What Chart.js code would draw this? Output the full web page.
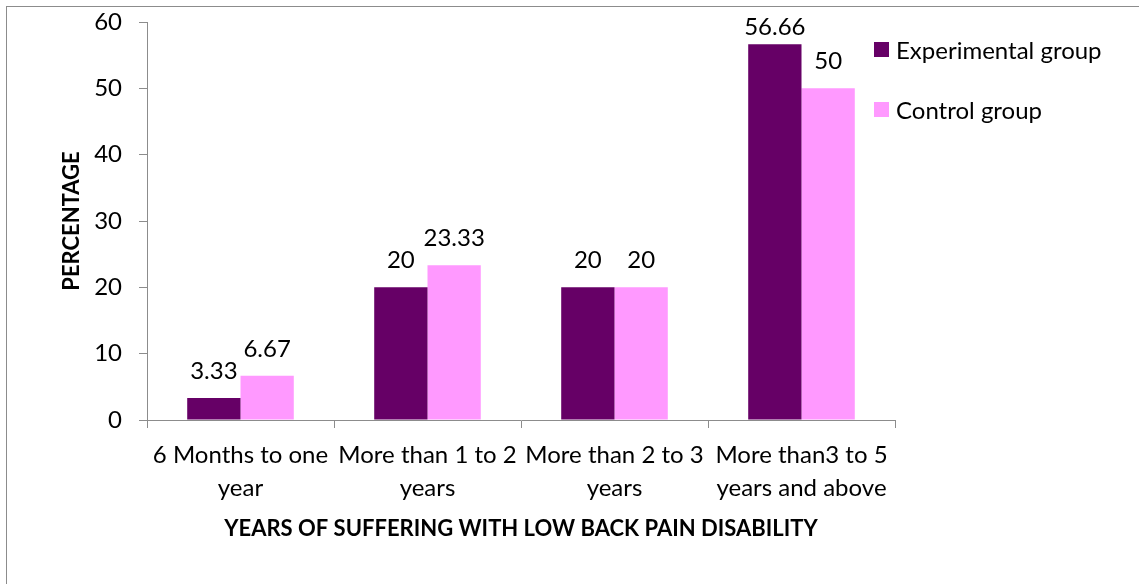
<!DOCTYPE html>
<html>
<head>
<meta charset="utf-8">
<script src="https://cdn.jsdelivr.net/npm/chart.js@4.4.1/dist/chart.umd.min.js"></script>
<style>
    html, body { margin: 0; padding: 0; background: #fff; overflow: hidden; }
    .frame { position: absolute; left: 6px; top: 6px; width: 1140px; height: 600px; border: 1px solid #8c8c8c; box-sizing: border-box; }
    .wrap { position: absolute; left: 0; top: 0; width: 1139px; height: 584px; }
    .legend { position: absolute; left: 874px; top: 33px; font-family: Lato, "Noto Sans", sans-serif; font-size: 24px; color: #000; }
    .legend-item { display: flex; align-items: center; height: 32px; margin-bottom: 28px; }
    .legend-box { width: 15px; height: 15px; margin-right: 7px; }
</style>
</head>
<body>
<div class="frame"></div>
<div class="wrap"><canvas id="chart" width="1139" height="584"></canvas></div>
<div class="legend" id="legend"></div>
<script>
    const categories = [
        ['6 Months to one', 'year'],
        ['More than 1 to 2', 'years'],
        ['More than 2 to 3', 'years'],
        ['More than3 to 5', 'years and above']
    ];
    const experimentalValues = [3.33, 20, 20, 56.66];
    const controlValues = [6.67, 23.33, 20, 50];
    const seriesNames = ['Experimental group', 'Control group'];
    const seriesColors = ['#660066', '#ff99ff'];

    const FONT = 'Lato, "Noto Sans", sans-serif';

    // value above each bar, kept inside the plot area like Excel does
    const valueLabels = {
        id: 'valueLabels',
        afterDatasetsDraw(chart) {
            const { ctx, chartArea } = chart;
            ctx.save();
            ctx.font = `24px ${FONT}`;
            ctx.fillStyle = '#000';
            ctx.textAlign = 'center';
            ctx.textBaseline = 'alphabetic';
            chart.data.datasets.forEach((ds, i) => {
                chart.getDatasetMeta(i).data.forEach((bar, j) => {
                    const y = Math.max(bar.y - 19, chartArea.top + 13);
                    ctx.fillText(String(ds.data[j]), bar.x, y);
                });
            });
            ctx.restore();
        }
    };

    const chart = new Chart(document.getElementById('chart').getContext('2d'), {
        type: 'bar',
        data: {
            labels: categories,
            datasets: [
                { label: seriesNames[0], data: experimentalValues, backgroundColor: seriesColors[0] },
                { label: seriesNames[1], data: controlValues, backgroundColor: seriesColors[1] }
            ]
        },
        options: {
            responsive: false,
            animation: false,
            layout: { padding: { left: 0, right: 244, top: 22, bottom: 0 } },
            datasets: { bar: { barPercentage: 1, categoryPercentage: 0.57 } },
            plugins: { legend: { display: false }, tooltip: { enabled: false } },
            scales: {
                x: {
                    afterFit(scale) { scale.height = 164; scale.paddingLeft = 0; scale.paddingRight = 0; },
                    grid: { display: true, drawOnChartArea: false, offset: true, tickLength: 8, color: '#8c8c8c' },
                    border: { color: '#8c8c8c', width: 1 },
                    ticks: { color: '#000', font: { size: 24, family: FONT, lineHeight: 1.4 }, maxRotation: 0, padding: 10 },
                    title: {
                        display: true,
                        text: 'YEARS OF SUFFERING WITH LOW BACK PAIN DISABILITY',
                        color: '#000',
                        font: { size: 22, weight: 'bold', family: FONT, lineHeight: 1.2 },
                        padding: { top: 0, bottom: 42 }
                    }
                },
                y: {
                    min: 0,
                    max: 60,
                    afterFit(scale) { scale.width = 147; scale.paddingTop = 0; scale.paddingBottom = 0; },
                    grid: { display: true, drawOnChartArea: false, tickLength: 8, color: '#8c8c8c' },
                    border: { color: '#8c8c8c', width: 1 },
                    ticks: { stepSize: 10, color: '#000', font: { size: 24, family: FONT }, padding: 17 },
                    title: {
                        display: true,
                        text: 'PERCENTAGE',
                        color: '#000',
                        font: { size: 22, weight: 'bold', family: FONT, lineHeight: 1.2 },
                        padding: { top: 59, bottom: 0 }
                    }
                }
            }
        },
        plugins: [valueLabels]
    });

    const legendEl = document.getElementById('legend');
    seriesNames.forEach((name, i) => {
        const item = document.createElement('div');
        item.className = 'legend-item';
        const box = document.createElement('span');
        box.className = 'legend-box';
        box.style.background = seriesColors[i];
        const text = document.createElement('span');
        text.textContent = name;
        item.appendChild(box);
        item.appendChild(text);
        legendEl.appendChild(item);
    });
</script>
</body>
</html>
